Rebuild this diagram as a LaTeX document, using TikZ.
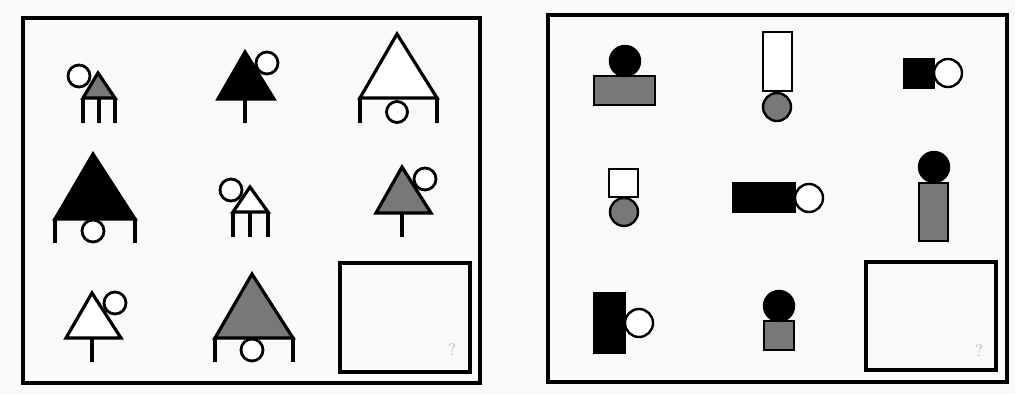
\documentclass[tikz,border=0pt]{standalone}
\usepackage{tikz}
\definecolor{paper}{gray}{0.975}
\definecolor{shade}{gray}{0.47}
\tikzset{%
  frame/.style={draw, line width=3.8pt},
  qbox/.style={draw, line width=3.2pt},
  fig/.style={draw, line width=3.2pt, line join=miter},
  leg/.style={draw, line width=3.2pt},
  ring/.style={draw, line width=2.8pt, fill=white},
  blob/.style={draw, line width=2.4pt},
  qmark/.style={text=black!35, font=\fontsize{17}{17}\selectfont}%
}

\begin{document}
\begin{tikzpicture}[x=1pt, y=-1pt]

\fill[paper] (0,0) rectangle (1015,394);
\useasboundingbox (0,0) rectangle (1015,394);

% Left panel: triangles with legs and a ring
\draw[frame] (23,18) rectangle (480,383);

% row 1
\draw[fig, fill=shade] (98,73) -- (115,98) -- (83,98) -- cycle;
\draw[leg] (83,98) -- (83,123) (99,98) -- (99,123) (115,98) -- (115,123);
\draw[ring] (79,76) circle (11);

\draw[fig, fill=black] (245,52) -- (274,99) -- (218,99) -- cycle;
\draw[leg] (245,99) -- (245,123);
\draw[ring] (267,63) circle (11);

\draw[fig, fill=white] (397,34) -- (437,98) -- (360,98) -- cycle;
\draw[leg] (360,97) -- (360,123) (437,97) -- (437,123);
\draw[ring] (397,112) circle (10.5);

% row 2
\draw[fig, fill=black] (93,154) -- (135,219) -- (55,219) -- cycle;
\draw[leg] (55,218) -- (55,243) (135,218) -- (135,243);
\draw[ring] (93,231) circle (11);

\draw[fig, fill=white] (250,187) -- (268,212) -- (233,212) -- cycle;
\draw[leg] (233,212) -- (233,237) (250,212) -- (250,237) (268,212) -- (268,237);
\draw[ring] (231,190) circle (11);

\draw[fig, fill=shade] (402,167) -- (431,213) -- (376,213) -- cycle;
\draw[leg] (402,213) -- (402,237);
\draw[ring] (425,179) circle (11);

% row 3
\draw[fig, fill=white] (92,293) -- (121,338) -- (66,338) -- cycle;
\draw[leg] (92,338) -- (92,362);
\draw[ring] (115,303) circle (11);

\draw[fig, fill=shade] (252,274) -- (293,338) -- (215,338) -- cycle;
\draw[leg] (215,337) -- (215,362) (293,337) -- (293,362);
\draw[ring] (252,350) circle (11);

\draw[qbox] (340,263) rectangle (470,372);
\node[qmark] (qleft) at (452,350) {?};

% Right panel: blocks with a ball
\draw[frame] (548,15) rectangle (1007,382);

% row 1
\draw[blob, fill=shade] (594,76) rectangle (655,105);
\draw[blob, fill=black] (625,61) circle (15);

\draw[blob, fill=white] (763,32) rectangle (792,91);
\draw[blob, fill=shade] (777,107) circle (14);

\draw[blob, fill=black] (904,59) rectangle (934,88);
\draw[blob, fill=white] (948,73) circle (14);

% row 2
\draw[blob, fill=white] (609,169) rectangle (638,197);
\draw[blob, fill=shade] (624,212) circle (14);

\draw[blob, fill=black] (733,183) rectangle (795,212);
\draw[blob, fill=white] (809,198) circle (14);

\draw[blob, fill=shade] (919,183) rectangle (948,241);
\draw[blob, fill=black] (934,167) circle (15);

% row 3
\draw[blob, fill=black] (594,293) rectangle (625,353);
\draw[blob, fill=white] (639,323) circle (14);

\draw[blob, fill=shade] (764,321) rectangle (794,350);
\draw[blob, fill=black] (779,306) circle (15);

\draw[qbox] (866,262) rectangle (996,370);
\node[qmark] (qright) at (979,351) {?};

\end{tikzpicture}
\end{document}
